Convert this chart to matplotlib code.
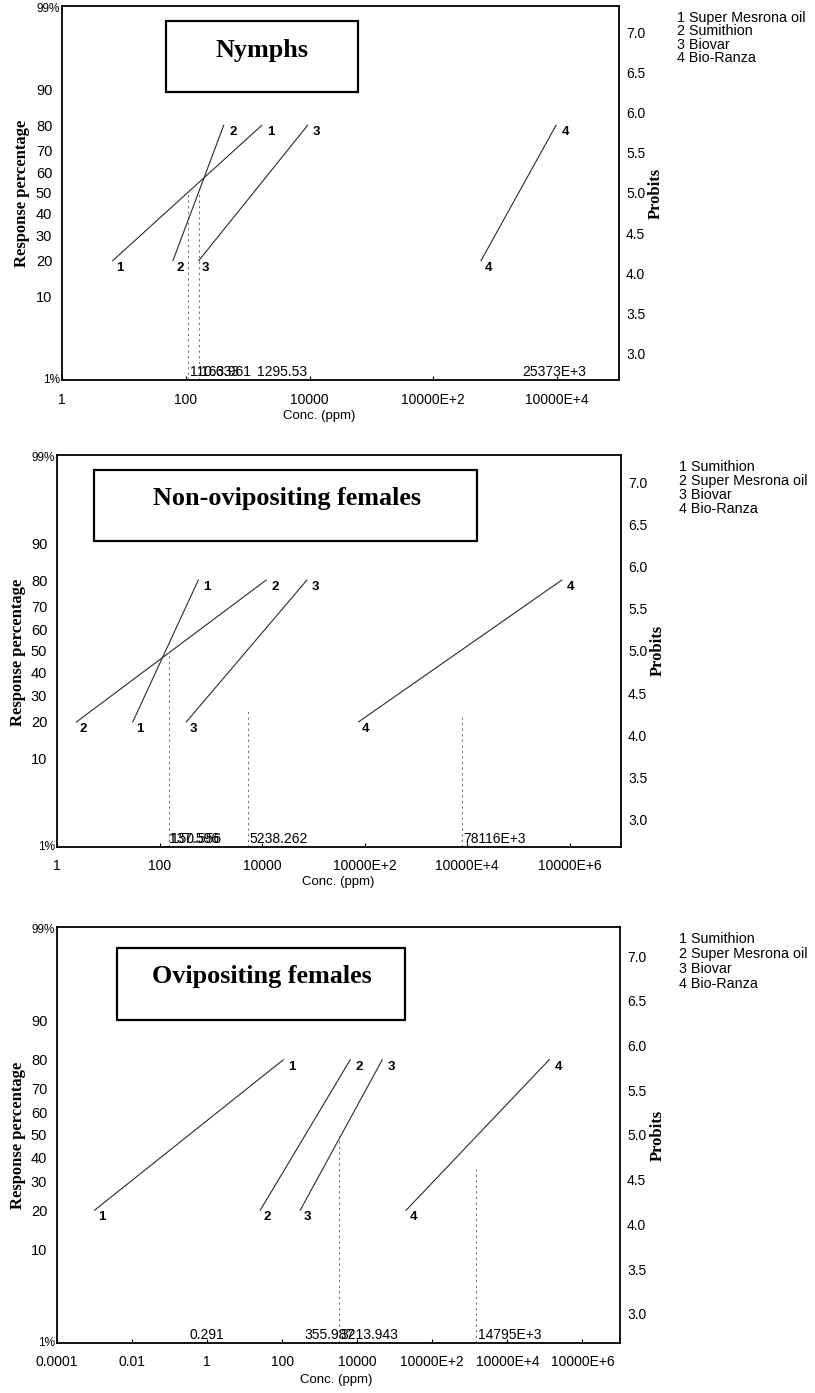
import matplotlib
matplotlib.use("Agg")
import matplotlib.pyplot as plt
from matplotlib.patches import Rectangle
from matplotlib.ticker import NullLocator
from statistics import NormalDist

plt.rcParams['font.family'] = ['Liberation Sans', 'DejaVu Sans']

W, H, DPI = 815, 1393, 100
SERIF = ['Liberation Serif', 'DejaVu Serif']


def probit(pct):
    return NormalDist().inv_cdf(pct / 100.0) + 5.0


# ---------------- data ----------------
panel_titles = ["Nymphs", "Non-ovipositing females", "Ovipositing females"]

nymph_names = ["Super Mesrona oil", "Sumithion", "Biovar", "Bio-Ranza"]
nymph_conc_low = [6.6, 62, 162, 5.9e6]          # conc. at 20 % response
nymph_conc_high = [1690, 410, 9300, 9.6e7]      # conc. at 80 % response
nymph_lc50 = [110.633, 163.961, 1295.53, 25373e3]
nymph_lc50_text = ["110.633", "163.961", "1295.53", "25373E+3"]
nymph_drop_top = [50, 50, None, None]

nonovi_names = ["Sumithion", "Super Mesrona oil", "Biovar", "Bio-Ranza"]
nonovi_conc_low = [30, 2.4, 333, 7.6e5]
nonovi_conc_high = [570, 12000, 74800, 7.0e9]
nonovi_lc50 = [137.596, 150.556, 5238.262, 78116e3]
nonovi_lc50_text = ["137.596", "150.556", "5238.262", "78116E+3"]
nonovi_drop_top = [None, 50, 25, 22]

ovi_names = ["Sumithion", "Super Mesrona oil", "Biovar", "Bio-Ranza"]
ovi_conc_low = [0.001, 26, 302, 2.0e5]
ovi_conc_high = [107, 6500, 46400, 1.3e9]
ovi_lc50 = [0.291, 355.987, 3213.943, 14795e3]
ovi_lc50_text = ["0.291", "355.987", "3213.943", "14795E+3"]
ovi_drop_top = [None, None, 50, 35]

resp_low, resp_high = 20, 80
pct_ticks = [10, 20, 30, 40, 50, 60, 70, 80, 90]
pct_labels = ["10", "20", "30", "40", "50", "60", "70", "80", "90"]
probit_ticks = [3.0, 3.5, 4.0, 4.5, 5.0, 5.5, 6.0, 6.5, 7.0]

nymph_xticks = [1, 1e2, 1e4, 1e6, 1e8]
nymph_xlabels = ["1", "100", "10000", "10000E+2", "10000E+4"]
nonovi_xticks = [1, 1e2, 1e4, 1e6, 1e8, 1e10]
nonovi_xlabels = ["1", "100", "10000", "10000E+2", "10000E+4", "10000E+6"]
ovi_xticks = [1e-4, 1e-2, 1, 1e2, 1e4, 1e6, 1e8, 1e10]
ovi_xlabels = ["0.0001", "0.01", "1", "100", "10000", "10000E+2", "10000E+4", "10000E+6"]

# ---------------- layout (pixels) ----------------
panels = [
    dict(title=panel_titles[0], names=nymph_names, lo=nymph_conc_low, hi=nymph_conc_high,
         lc50=nymph_lc50, lc50_text=nymph_lc50_text, drop=nymph_drop_top,
         xticks=nymph_xticks, xlabels=nymph_xlabels, xlim=(1, 1e9),
         box=(62, 619, 6, 380), tbox=(166, 358, 21, 92), ttext=(262, 50),
         leg=(677, 18, 13.3), ylab=(22, 193), prob=(656, 193), conc=(319, 416)),
    dict(title=panel_titles[1], names=nonovi_names, lo=nonovi_conc_low, hi=nonovi_conc_high,
         lc50=nonovi_lc50, lc50_text=nonovi_lc50_text, drop=nonovi_drop_top,
         xticks=nonovi_xticks, xlabels=nonovi_xlabels, xlim=(1, 1e11),
         box=(57, 621, 455, 847), tbox=(94, 477, 470, 541), ttext=(287, 498),
         leg=(679, 467, 14), ylab=(18, 652), prob=(658, 650), conc=(338, 882)),
    dict(title=panel_titles[2], names=ovi_names, lo=ovi_conc_low, hi=ovi_conc_high,
         lc50=ovi_lc50, lc50_text=ovi_lc50_text, drop=ovi_drop_top,
         xticks=ovi_xticks, xlabels=ovi_xlabels, xlim=(1e-4, 1e11),
         box=(57, 620, 927, 1343), tbox=(117, 405, 948, 1020), ttext=(262, 976),
         leg=(679, 939, 15), ylab=(18, 1135), prob=(658, 1135), conc=(336, 1380)),
]


def fx(px):
    return px / W


def fy(py):
    return 1 - py / H


fig = plt.figure(figsize=(W / DPI, H / DPI), dpi=DPI)
fig.patch.set_facecolor('white')

ymin, ymax = probit(1), probit(99)
LINE_C = '#2b2b2b'

for P in panels:
    L, R, T, B = P['box']
    ax = fig.add_axes([fx(L), fy(B), (R - L) / W, (B - T) / H])
    ax.set_xscale('log')
    ax.set_xlim(*P['xlim'])
    ax.set_ylim(ymin, ymax)
    ax.set_facecolor('white')

    for i in range(4):
        y0, y1 = probit(resp_low), probit(resp_high)
        ax.plot([P['lo'][i], P['hi'][i]], [y0, y1], color=LINE_C, lw=0.8)
        ax.annotate(str(i + 1), (P['lo'][i], y0), xytext=(7, -7), textcoords='offset pixels',
                    ha='center', va='center', fontsize=9.5, fontweight='bold')
        ax.annotate(str(i + 1), (P['hi'][i], y1), xytext=(9, -7), textcoords='offset pixels',
                    ha='center', va='center', fontsize=9.5, fontweight='bold')
        if P['drop'][i] is not None:
            ax.vlines(P['lc50'][i], ymin, probit(P['drop'][i]), colors='#777777',
                      linestyles=(0, (2, 3)), lw=0.8)
        ax.annotate(P['lc50_text'][i], (P['lc50'][i], ymin), xytext=(2, 1),
                    textcoords='offset pixels', ha='left', va='bottom', fontsize=10)

    ax.set_xticks(P['xticks'])
    ax.set_xticklabels(P['xlabels'])
    ax.xaxis.set_minor_locator(NullLocator())
    ax.tick_params(axis='x', length=3, direction='in', pad=9, labelsize=10)

    ax.set_yticks([probit(p) for p in pct_ticks])
    ax.set_yticklabels(pct_labels)
    ax.yaxis.set_minor_locator(NullLocator())
    ax.tick_params(axis='y', length=0, pad=7, labelsize=10.5)
    ax.annotate("99%", (0, ymax), xycoords=('axes fraction', 'data'), xytext=(-2, -3),
                textcoords='offset pixels', ha='right', va='center', fontsize=8.5)
    ax.annotate("1%", (0, ymin), xycoords=('axes fraction', 'data'), xytext=(-2, 0),
                textcoords='offset pixels', ha='right', va='center', fontsize=8.5)

    for s in ax.spines.values():
        s.set_linewidth(1.3)
        s.set_color('black')

    ax2 = ax.twinx()
    ax2.set_ylim(ymin, ymax)
    ax2.set_yticks(probit_ticks)
    ax2.set_yticklabels([f"{v:.1f}" for v in probit_ticks])
    ax2.tick_params(axis='y', length=0, pad=5, labelsize=10)
    for s in ax2.spines.values():
        s.set_visible(False)

    # title box
    bl, br, bt, bb = P['tbox']
    fig.patches.append(Rectangle((fx(bl), fy(bb)), (br - bl) / W, (bb - bt) / H,
                                 transform=fig.transFigure, fill=True, facecolor='white',
                                 edgecolor='black', lw=1.6, zorder=5))
    fig.text(fx(P['ttext'][0]), fy(P['ttext'][1]), P['title'], ha='center', va='center',
             fontsize=18.8, fontweight='bold', family=SERIF, zorder=6)

    # legend
    lx, ly, dy = P['leg']
    for i, nm in enumerate(P['names']):
        fig.text(fx(lx), fy(ly + i * dy), f"{i + 1} {nm}", ha='left', va='center', fontsize=10.3)

    fig.text(fx(P['ylab'][0]), fy(P['ylab'][1]), "Response percentage", rotation=90,
             ha='center', va='center', fontsize=12, fontweight='bold', family=SERIF)
    fig.text(fx(P['prob'][0]), fy(P['prob'][1]), "Probits", rotation=90,
             ha='center', va='center', fontsize=12, fontweight='bold', family=SERIF)
    fig.text(fx(P['conc'][0]), fy(P['conc'][1]), "Conc. (ppm)", ha='center', va='center',
             fontsize=9.5)

fig.savefig("out.png", dpi=DPI, facecolor='white')
